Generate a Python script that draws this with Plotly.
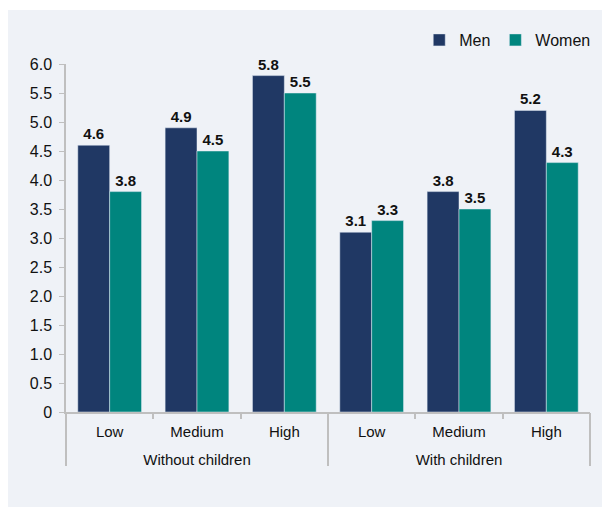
import plotly.graph_objects as go

groups = ["Without children", "With children"]
levels = ["Low", "Medium", "High", "Low", "Medium", "High"]
men = [4.6, 4.9, 5.8, 3.1, 3.8, 5.2]
women = [3.8, 4.5, 5.5, 3.3, 3.5, 4.3]
ytickvals = [0, 0.5, 1.0, 1.5, 2.0, 2.5, 3.0, 3.5, 4.0, 4.5, 5.0, 5.5, 6.0]
yticktext = ["0", "0.5", "1.0", "1.5", "2.0", "2.5", "3.0", "3.5", "4.0", "4.5", "5.0", "5.5", "6.0"]

FONT = "Liberation Sans, Arial, sans-serif"
MEN_C = "#203864"
WOMEN_C = "#00857e"
BG = "#eff2f7"
AX = "#bfbfbf"

n = len(levels)
per_group = n // len(groups)
xpos = list(range(n))
boundaries = [i - 0.5 for i in range(n + 1)]
group_centers = [g * per_group + (per_group - 1) / 2 for g in range(len(groups))]
group_edges = [g * per_group - 0.5 for g in range(len(groups) + 1)]
xrange_ = [-0.5, n - 0.5]

label_font = dict(family=FONT, size=15, color="#111111", weight="bold")

fig = go.Figure()
fig.add_trace(go.Bar(
    x=xpos, y=men, name="Men", marker_color=MEN_C,
    text=[f"{v:.1f}" for v in men], textposition="outside",
    textfont=label_font, cliponaxis=False,
))
fig.add_trace(go.Bar(
    x=xpos, y=women, name="Women", marker_color=WOMEN_C,
    text=[f"{v:.1f}" for v in women], textposition="outside",
    textfont=label_font, cliponaxis=False,
))
# empty helper traces so the overlay axes (group labels, group dividers) get drawn
fig.add_trace(go.Scatter(x=group_centers, y=[None] * len(group_centers), xaxis="x2",
                         mode="markers", showlegend=False, hoverinfo="skip"))
fig.add_trace(go.Scatter(x=group_edges, y=[None] * len(group_edges), xaxis="x3",
                         mode="markers", showlegend=False, hoverinfo="skip"))

W, H = 602, 499
L, R, T, B = 58, 20, 56, 95
pw, ph = W - L - R, H - T - B

fig.add_shape(type="rect", xref="paper", yref="paper", layer="below",
              x0=-L / pw, x1=(W - L + 10) / pw,
              y0=-(B + 10) / ph, y1=(T + ph - 2) / ph,
              fillcolor=BG, line_width=0)

fig.update_layout(
    width=W, height=H,
    margin=dict(l=L, r=R, t=T, b=B),
    paper_bgcolor="white", plot_bgcolor="rgba(0,0,0,0)",
    barmode="group", bargap=0.27, bargroupgap=0,
    font=dict(family=FONT, size=15, color="#111111"),
    legend=dict(orientation="h", x=1.01, xanchor="right", y=(T + ph - 32) / ph, yanchor="middle",
                font=dict(size=16), bgcolor="rgba(0,0,0,0)", traceorder="normal"),
    showlegend=True,
    xaxis=dict(
        range=xrange_, tickvals=xpos, ticktext=levels, ticks="", showgrid=False, zeroline=False,
        showline=True, linecolor=AX, linewidth=1.5, tickfont=dict(size=15),
        ticklabelstandoff=5, automargin=False,
        minor=dict(tickvals=boundaries, ticks="outside", ticklen=5, tickcolor=AX, tickwidth=1.5, showgrid=False),
    ),
    xaxis2=dict(
        overlaying="x", anchor="y", side="bottom", range=xrange_,
        tickvals=group_centers, ticktext=groups, ticks="", showgrid=False, zeroline=False,
        showline=False, tickfont=dict(size=15), ticklabelstandoff=37, automargin=False,
    ),
    xaxis3=dict(
        overlaying="x", anchor="y", side="bottom", range=xrange_,
        tickvals=group_edges, ticks="outside", ticklen=53, tickwidth=1.5, tickcolor=AX,
        showticklabels=False, showgrid=False, zeroline=False, showline=False, automargin=False,
    ),
    yaxis=dict(
        range=[0, 6], tickvals=ytickvals, ticktext=yticktext, showgrid=False, zeroline=False,
        showline=True, linecolor=AX, linewidth=1.5, ticks="outside", tickcolor=AX,
        ticklen=5, tickfont=dict(size=16), ticklabelstandoff=4, automargin=False,
    ),
)

fig.write_html("out.html")
